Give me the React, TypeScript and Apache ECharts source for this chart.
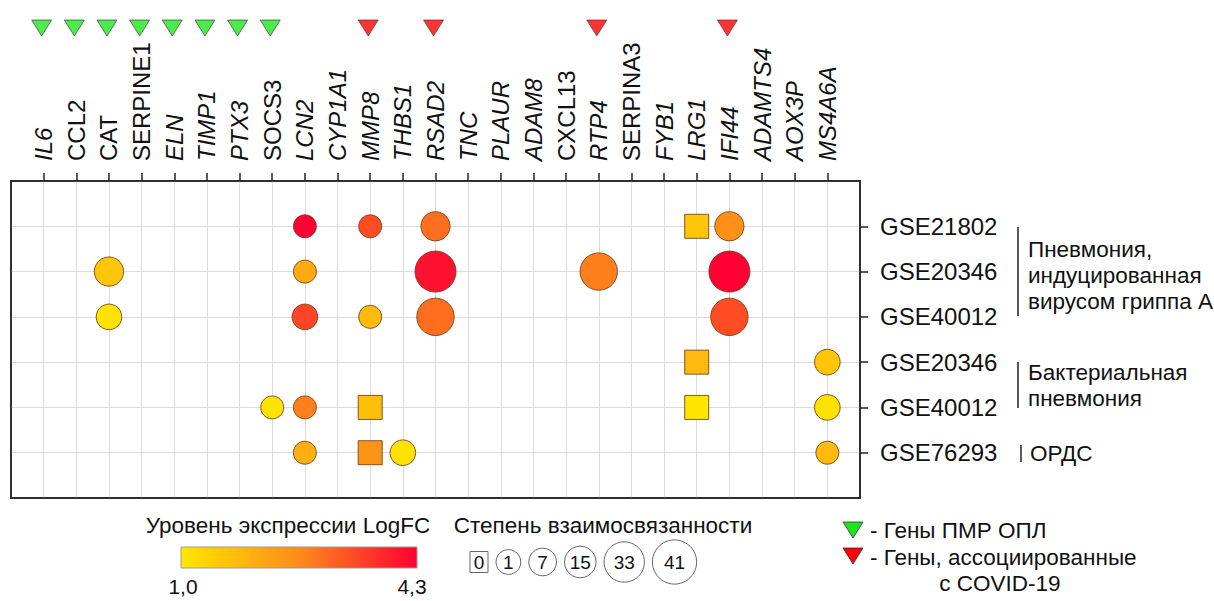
import React, { useEffect, useRef } from "react";
import * as echarts from "echarts";

const genes = ["IL6", "CCL2", "CAT", "SERPINE1", "ELN", "TIMP1", "PTX3", "SOCS3", "LCN2", "CYP1A1", "MMP8", "THBS1", "RSAD2", "TNC", "PLAUR", "ADAM8", "CXCL13", "RTP4", "SERPINA3", "FYB1", "LRG1", "IFI44", "ADAMTS4", "AOX3P", "MS4A6A"];
const uprightGenes = ["CCL2", "CAT", "SERPINE1", "SOCS3", "CXCL13", "SERPINA3"];
const datasets = ["GSE21802", "GSE20346", "GSE40012", "GSE20346", "GSE40012", "GSE76293"];
const pmrGenes = ["IL6", "CCL2", "CAT", "SERPINE1", "ELN", "TIMP1", "PTX3", "SOCS3"];
const covidGenes = ["MMP8", "RSAD2", "RTP4", "IFI44"];

// [gene, LogFC, degree of interconnectedness]
const fluGSE21802: [string, number, number][] = [["LCN2", 4.3, 1], ["MMP8", 3.4, 1], ["RSAD2", 3.0, 15], ["LRG1", 1.6, 0], ["IFI44", 2.6, 15]];
const fluGSE20346: [string, number, number][] = [["CAT", 1.6, 15], ["LCN2", 2.1, 1], ["RSAD2", 4.1, 41], ["RTP4", 2.8, 33], ["IFI44", 4.3, 41]];
const fluGSE40012: [string, number, number][] = [["CAT", 1.1, 7], ["LCN2", 3.5, 7], ["MMP8", 1.8, 1], ["RSAD2", 3.0, 33], ["IFI44", 3.4, 33]];
const bactGSE20346: [string, number, number][] = [["LRG1", 1.8, 0], ["MS4A6A", 1.6, 7]];
const bactGSE40012: [string, number, number][] = [["SOCS3", 1.1, 1], ["LCN2", 2.8, 1], ["MMP8", 1.7, 0], ["LRG1", 1.0, 0], ["MS4A6A", 1.1, 7]];
const ardsGSE76293: [string, number, number][] = [["LCN2", 2.0, 1], ["MMP8", 2.5, 0], ["THBS1", 1.1, 7], ["MS4A6A", 1.8, 1]];
const rowsData = [fluGSE21802, fluGSE20346, fluGSE40012, bactGSE20346, bactGSE40012, ardsGSE76293];

const logFCMin = 1.0;
const logFCMax = 4.3;
const logFCLabels = ["1,0", "4,3"];
const degreeLegend = [0, 1, 7, 15, 33, 41];

const FONT = "'Liberation Sans', Arial, sans-serif";
const colorStops = ["#FFE600", "#FF8C1A", "#FF0033"];
const sizeOf = (deg: number) => (deg === 0 ? 24 : 22.5 + 0.45 * deg);

export default function App() {
  const ref = useRef<HTMLDivElement>(null);
  useEffect(() => {
    document.body.style.margin = "0";
    const chart = echarts.init(ref.current!, null, { renderer: "svg" });
    const points: number[][] = [];
    rowsData.forEach((row, r) => {
      row.forEach(([g, fc, deg]) => points.push([genes.indexOf(g), r, fc, deg]));
    });
    const idx = genes.map((_, i) => i);
    const italicIdx = idx.filter((i) => !uprightGenes.includes(genes[i]));
    const uprightIdx = idx.filter((i) => uprightGenes.includes(genes[i]));
    const rowIdx = datasets.map((_, i) => i);
    const axisCol = "#222";

    const graphics: any[] = [];
    const txt = (x: number, y: number, text: string, opts: any = {}) =>
      graphics.push({
        type: "text",
        x,
        y,
        style: { text, font: `${opts.size || 22.5}px ${FONT}`, fill: "#111", textAlign: opts.align || "left", textVerticalAlign: "middle" },
      });
    const vline = (x: number, y1: number, y2: number) =>
      graphics.push({ type: "line", shape: { x1: x, y1, x2: x, y2 }, style: { stroke: "#222", lineWidth: 1.5 } });

    // group annotations
    vline(1018, 227, 316);
    txt(1028, 249, "Пневмония,");
    txt(1028, 275, "индуцированная");
    txt(1028, 301, "вирусом гриппа А");
    vline(1018, 362, 408);
    txt(1028, 372, "Бактериальная");
    txt(1028, 398, "пневмония");
    vline(1021, 445, 462);
    txt(1030, 453, "ОРДС");

    // LogFC legend
    txt(288, 525, "Уровень экспрессии LogFC", { align: "center" });
    graphics.push({
      type: "rect",
      shape: { x: 181, y: 547, width: 236, height: 21 },
      style: {
        fill: new echarts.graphic.LinearGradient(0, 0, 1, 0, colorStops.map((c, i) => ({ offset: i / (colorStops.length - 1), color: c }))),
        stroke: "#999",
        lineWidth: 1,
      },
    });
    txt(183, 586, logFCLabels[0], { align: "center", size: 21 });
    txt(412, 586, logFCLabels[1], { align: "center", size: 21 });

    // degree legend
    txt(603, 525, "Степень взаимосвязанности", { align: "center" });
    let cx = 470;
    const cy = 562;
    degreeLegend.forEach((d) => {
      if (d === 0) {
        const w = 18;
        const h = 21;
        graphics.push({ type: "rect", shape: { x: cx, y: cy - h / 2, width: w, height: h }, style: { fill: "#fff", stroke: "#666", lineWidth: 1 } });
        txt(cx + w / 2, cy, String(d), { align: "center", size: 19 });
        cx += w + 8;
      } else {
        const s = sizeOf(d) * 1.08;
        graphics.push({ type: "circle", shape: { cx: cx + s / 2, cy, r: s / 2 }, style: { fill: "#fff", stroke: "#666", lineWidth: 1 } });
        txt(cx + s / 2, cy, String(d), { align: "center", size: 19 });
        cx += s + 8;
      }
    });

    // triangle legend
    graphics.push({ type: "polygon", shape: { points: [[843, 522], [863, 522], [853, 538]] }, style: { fill: "#1EE61E", stroke: "#333", lineWidth: 0.8 } });
    txt(870, 530, "- Гены ПМР ОПЛ");
    graphics.push({ type: "polygon", shape: { points: [[843, 548], [863, 548], [853, 564]] }, style: { fill: "#FF0000", stroke: "#333", lineWidth: 0.8 } });
    txt(870, 557, "- Гены, ассоциированные");
    txt(1000, 583, "с COVID-19", { align: "center" });

    const edgeAxis = (gridIndex: number, position: string, min: number, max: number) => ({
      gridIndex,
      type: "value",
      min,
      max,
      position,
      axisLine: { show: true, onZero: false, lineStyle: { color: axisCol, width: 1.5 } },
      axisTick: { show: false },
      axisLabel: { show: false },
      splitLine: { show: false },
    });

    const labelAxis = (values: number[], fontStyle: string) => ({
      gridIndex: 0,
      type: "value",
      min: -1,
      max: 25,
      interval: 1,
      position: "top",
      offset: 0,
      axisLine: { show: false, onZero: false },
      axisTick: { show: false },
      splitLine: { show: false },
      axisLabel: {
        customValues: values,
        rotate: -90,
        margin: 20,
        align: "left",
        verticalAlign: "middle",
        hideOverlap: false,
        fontSize: 24,
        fontStyle,
        fontFamily: FONT,
        color: "#111",
        formatter: (v: number) => genes[Math.round(v)] || "",
      },
    });

    const option: any = {
      animation: false,
      backgroundColor: "#fff",
      textStyle: { fontFamily: FONT },
      grid: [
        { left: 11, top: 181, width: 849, height: 317, show: true, borderColor: axisCol, borderWidth: 1.5, backgroundColor: "transparent" },
        { left: 11, top: 17, width: 849, height: 22 },
      ],
      xAxis: [
        {
          gridIndex: 0,
          type: "value",
          min: -1,
          max: 25,
          interval: 1,
          position: "top",
          axisLine: { show: true, onZero: false, lineStyle: { color: axisCol, width: 1.5 } },
          axisTick: { show: true, length: 8, customValues: idx, lineStyle: { color: axisCol, width: 1.5 } },
          splitLine: { show: true, lineStyle: { color: "#dcdcdc", width: 1 } },
          axisLabel: { show: false },
        },
        edgeAxis(0, "bottom", -1, 25),
        { gridIndex: 1, type: "value", min: -1, max: 25, show: false },
        labelAxis(italicIdx, "italic"),
        labelAxis(uprightIdx, "normal"),
      ],
      yAxis: [
        {
          gridIndex: 0,
          type: "value",
          min: -1,
          max: 6,
          interval: 1,
          inverse: true,
          position: "right",
          axisLine: { show: true, onZero: false, lineStyle: { color: axisCol, width: 1.5 } },
          axisTick: { show: true, length: 8, customValues: rowIdx, lineStyle: { color: axisCol, width: 1.5 } },
          splitLine: { show: true, lineStyle: { color: "#dcdcdc", width: 1 } },
          axisLabel: {
            customValues: rowIdx,
            margin: 20,
            fontSize: 24,
            color: "#111",
            fontFamily: FONT,
            formatter: (v: number) => datasets[Math.round(v)] || "",
          },
        },
        edgeAxis(0, "left", -1, 6),
        { gridIndex: 1, type: "value", min: 0, max: 1, show: false },
      ],
      visualMap: {
        type: "continuous",
        show: false,
        min: logFCMin,
        max: logFCMax,
        dimension: 2,
        seriesIndex: 0,
        inRange: { color: colorStops },
      },
      series: [
        {
          type: "scatter",
          xAxisIndex: 0,
          yAxisIndex: 0,
          data: points,
          symbol: (v: number[]) => (v[3] === 0 ? "rect" : "circle"),
          symbolSize: (v: number[]) => sizeOf(v[3]),
          itemStyle: { borderColor: "rgba(110,60,20,0.85)", borderWidth: 1, opacity: 1 },
          z: 5,
        },
        {
          type: "scatter",
          xAxisIndex: 2,
          yAxisIndex: 2,
          data: pmrGenes.map((g) => [genes.indexOf(g), 0.5]),
          symbol: "triangle",
          symbolRotate: 180,
          symbolSize: [20, 16],
          symbolOffset: [-2, 0],
          itemStyle: { color: "#1EE61E", borderColor: "#333", borderWidth: 0.8 },
        },
        {
          type: "scatter",
          xAxisIndex: 2,
          yAxisIndex: 2,
          data: covidGenes.map((g) => [genes.indexOf(g), 0.5]),
          symbol: "triangle",
          symbolRotate: 180,
          symbolSize: [20, 16],
          symbolOffset: [-2, 0],
          itemStyle: { color: "#FF0000", borderColor: "#333", borderWidth: 0.8 },
        },
      ],
      graphic: graphics,
    };
    chart.setOption(option);
    return () => chart.dispose();
  }, []);
  return <div ref={ref} style={{ width: 1214, height: 601 }} />;
}
